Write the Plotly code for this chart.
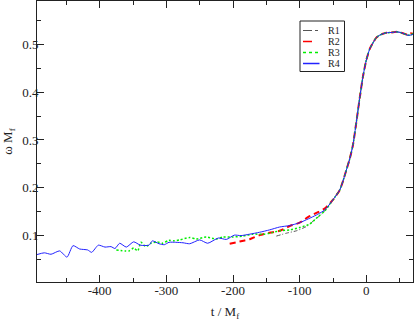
import plotly.graph_objects as go

# ---------------- data ----------------
series_names = ["R1", "R2", "R3", "R4"]

r1_t = [-135, -120, -105, -90, -80, -67, -60, -50, -40, -35, -30, -25, -20, -15, -10, -5, 0, 5, 10, 15, 20, 25, 30, 40, 45, 50, 55, 62, 66, 70]
r1_w = [0.099, 0.105, 0.110, 0.119, 0.130, 0.145, 0.156, 0.175, 0.195, 0.214, 0.237, 0.260, 0.290, 0.337, 0.387, 0.433, 0.467, 0.490, 0.503, 0.514, 0.519, 0.522, 0.524, 0.525, 0.526, 0.525, 0.523, 0.519, 0.519, 0.523]

r2_t = [-205, -190, -175, -160, -145, -130, -115, -100, -87, -74, -62, -50, -40, -35, -30, -25, -20, -15, -10, -5, 0, 5, 10, 15, 20, 25, 30, 40, 45, 50, 55, 62, 66, 70]
r2_w = [0.083, 0.0875, 0.0925, 0.101, 0.106, 0.110, 0.120, 0.127, 0.139, 0.148, 0.157, 0.175, 0.195, 0.214, 0.237, 0.260, 0.290, 0.337, 0.387, 0.433, 0.467, 0.490, 0.503, 0.514, 0.519, 0.522, 0.524, 0.525, 0.526, 0.525, 0.523, 0.520, 0.523, 0.522]

r3_t = [-375, -362, -356, -349, -343, -338, -331, -323, -314, -306, -296, -288, -280, -265, -255, -240, -225, -215, -200, -185, -170, -155, -145, -130, -115, -100, -85, -72, -62, -50, -40, -35, -30, -25, -20, -15, -10, -5, 0, 5, 10, 15, 20, 25, 30, 40, 45, 50, 55, 62, 66, 70]
r3_w = [0.070, 0.068, 0.068, 0.074, 0.068, 0.086, 0.077, 0.084, 0.087, 0.084, 0.090, 0.089, 0.091, 0.096, 0.093, 0.097, 0.093, 0.097, 0.097, 0.099, 0.103, 0.103, 0.105, 0.110, 0.112, 0.117, 0.124, 0.140, 0.152, 0.175, 0.195, 0.214, 0.237, 0.260, 0.290, 0.337, 0.387, 0.433, 0.467, 0.490, 0.503, 0.514, 0.519, 0.522, 0.524, 0.525, 0.526, 0.525, 0.523, 0.519, 0.519, 0.522]

r4_t = [-495, -483, -473, -460, -449, -440, -430, -418, -412, -402, -392, -383, -377, -370, -360, -349, -339, -326, -321, -311, -303, -296, -286, -275, -265, -250, -238, -222, -210, -198, -188, -175, -160, -145, -130, -115, -100, -87, -75, -65, -60, -50, -40, -35, -30, -25, -20, -15, -10, -5, 0, 5, 10, 15, 20, 25, 30, 40, 45, 50, 55, 62, 66, 70]
r4_w = [0.060, 0.064, 0.061, 0.068, 0.055, 0.079, 0.072, 0.070, 0.065, 0.080, 0.076, 0.077, 0.073, 0.084, 0.076, 0.087, 0.080, 0.080, 0.089, 0.083, 0.081, 0.086, 0.086, 0.085, 0.083, 0.091, 0.084, 0.095, 0.092, 0.101, 0.100, 0.103, 0.107, 0.112, 0.118, 0.121, 0.127, 0.135, 0.143, 0.151, 0.157, 0.175, 0.195, 0.214, 0.237, 0.260, 0.290, 0.337, 0.387, 0.433, 0.467, 0.490, 0.503, 0.514, 0.519, 0.522, 0.524, 0.525, 0.526, 0.525, 0.523, 0.519, 0.519, 0.521]

x_tickvals = [-400, -300, -200, -100, 0]
y_tickvals = [0.1, 0.2, 0.3, 0.4, 0.5]

# ---------------- styling ----------------
FONT = "Liberation Serif, Times New Roman, serif"
styles = [
    dict(color="#555555", width=1, dash="4px,2px,1px,2px", legend_dash="dashdot", legend_width=1),
    dict(color="#ff0000", width=2, dash="6px,4px", legend_dash="dash", legend_width=1.5),
    dict(color="#00ee00", width=1.5, dash="2px,2px", legend_dash="dot", legend_width=1.5),
    dict(color="#2222ff", width=1, dash="solid", legend_dash="solid", legend_width=1.5),
]
data = [(r1_t, r1_w), (r2_t, r2_w), (r3_t, r3_w), (r4_t, r4_w)]

W, H = 414, 322
ML, MR, MT, MB = 37, 1, 1, 40
PW, PH = W - ML - MR, H - MT - MB

fig = go.Figure()
for name, (t, w), st in zip(series_names, data, styles):
    fig.add_trace(go.Scatter(x=t, y=w, mode="lines", name=name,
                             line=dict(color=st["color"], width=st["width"], dash=st["dash"],
                                       shape="spline", smoothing=0.6),
                             showlegend=False))

axis_common = dict(showline=True, linecolor="#222222", linewidth=1, mirror="ticks",
                   ticks="inside", ticklen=7, tickwidth=1, tickcolor="#222222",
                   showgrid=False, zeroline=False,
                   tickfont=dict(family=FONT, size=13, color="#222222"))

fig.update_xaxes(range=[-494, 70], tickvals=x_tickvals, ticktext=[str(v) for v in x_tickvals],
                 minor=dict(dtick=50, tick0=0, ticks="inside", ticklen=4, tickcolor="#222222", showgrid=False),
                 title=dict(text="t / M<sub>f</sub>", font=dict(family=FONT, size=13, color="#222222"), standoff=10),
                 ticklabelstandoff=-4,
                 automargin=False, **axis_common)
fig.update_yaxes(range=[0.003, 0.5905], tickvals=y_tickvals, ticktext=[f"{v:.1f}" for v in y_tickvals],
                 minor=dict(dtick=0.05, tick0=0, ticks="inside", ticklen=4, tickcolor="#222222", showgrid=False),
                 title=dict(text="ω M<sub>f</sub>", font=dict(family=FONT, size=13, color="#222222"), standoff=8),
                 ticklabelstandoff=-5,
                 automargin=False, **axis_common)

# ---- custom legend (paper coords from pixel placement) ----
def px2paper(x, y):
    return (x - ML) / PW, 1 - (y - MT) / PH

shapes = []
annotations = []
bx0, by0 = px2paper(300, 21)
bx1, by1 = px2paper(344.5, 71.5)
shapes.append(dict(type="rect", xref="paper", yref="paper", x0=bx0, y0=by0, x1=bx1, y1=by1,
                   line=dict(color="#222222", width=1), fillcolor="white", layer="above"))
for i, (name, st) in enumerate(zip(series_names, styles)):
    yc = 30.5 + i * 11
    lx0, ly = px2paper(303, yc)
    lx1, _ = px2paper(319.5, yc)
    shapes.append(dict(type="line", xref="paper", yref="paper", x0=lx0, x1=lx1, y0=ly, y1=ly,
                       line=dict(color=st["color"], width=st["legend_width"], dash=st["legend_dash"]),
                       layer="above"))
    tx, ty = px2paper(326.5, yc)
    annotations.append(dict(text=name, xref="paper", yref="paper", x=tx, y=ty, xanchor="left", yanchor="middle",
                            showarrow=False, borderpad=0,
                            font=dict(family=FONT, size=10, color="#222222")))

fig.update_layout(width=W, height=H, margin=dict(l=ML, r=MR, t=MT, b=MB),
                  paper_bgcolor="white", plot_bgcolor="white",
                  shapes=shapes, annotations=annotations, showlegend=False)

fig.write_html("out.html", config={"displayModeBar": False},
               post_script="document.body.style.margin='0';document.body.style.padding='0';")
